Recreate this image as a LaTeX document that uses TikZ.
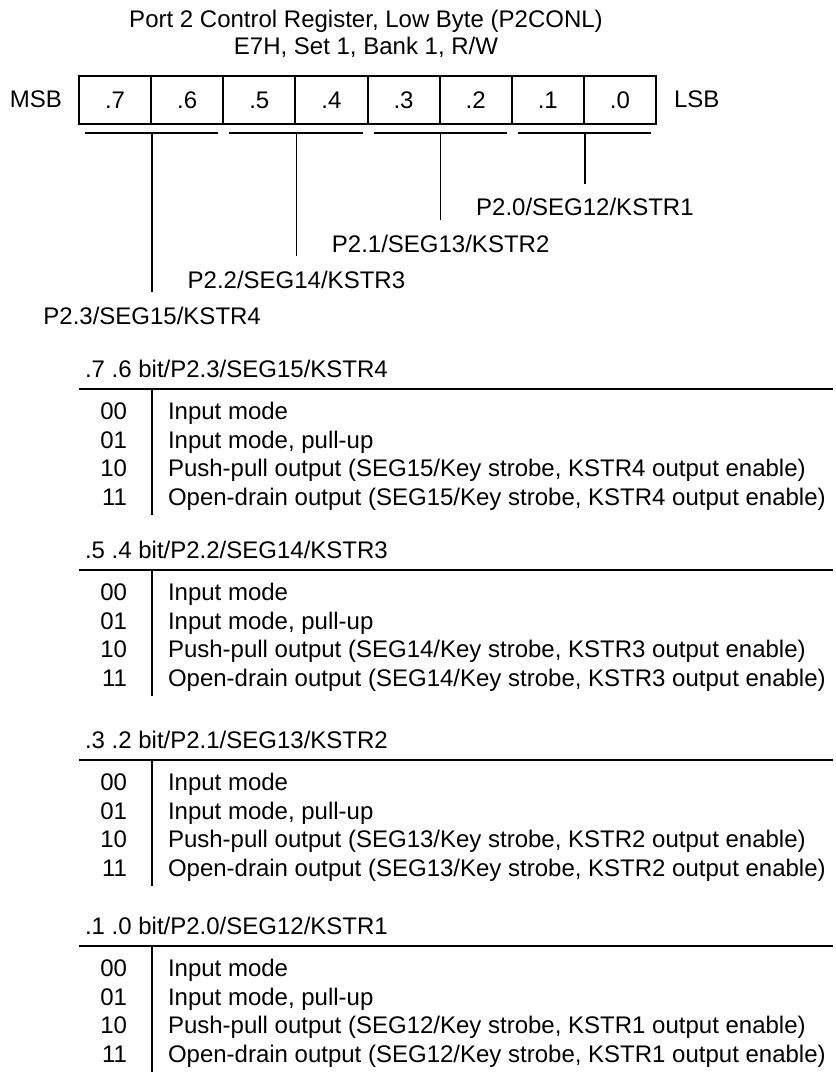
\documentclass[tikz,border=0pt]{standalone}
\usepackage{fontspec}
\setmainfont{Liberation Sans}
\usetikzlibrary{positioning}

\begin{document}
\begin{tikzpicture}[
  x=0.5pt, y=-0.5pt,
  font=\fontsize{12}{14}\selectfont,
  line width=1pt,
  txt/.style={inner sep=0pt},
  lab/.style={txt, anchor=base},
  cell/.style={draw, line width=1pt, minimum width=36.06pt, minimum height=24pt, inner sep=0pt},
  uline/.style={line width=1pt},
  lead/.style={line width=0.8pt},
  rule/.style={line width=1pt}
]
\useasboundingbox (0,0) rectangle (835,1075);

\node[lab] (title) at (366,28) {Port 2 Control Register, Low Byte (P2CONL)};
\node[lab] (addr) at (366,55) {E7H, Set 1, Bank 1, R/W};

% register
\foreach \b [count=\k from 0] in {7,...,0}
  \node[cell] (b\b) at ({79+72.125*(\k+0.5)},100) {.\b};
\node[txt, anchor=base east] (msb) at (63,108) {MSB};
\node[txt, anchor=base west] (lsb) at (673,108) {LSB};

% bit pairs and pin names
\foreach \hi/\lo/\pin/\seg/\ks/\ly in {7/6/3/15/4/324, 5/4/2/14/3/288, 3/2/1/13/2/252, 1/0/0/12/1/216} {
  \draw[uline] ([shift={(7,8)}]b\hi.south west) -- ([shift={(-6,8)}]b\lo.south east);
  \node[lab] (pin\pin) at (b\hi.south east |- 0,\ly) {P2.\pin/SEG\seg/KSTR\ks};
  \draw[lead] ([yshift=-4pt]b\hi.south east) -- ([yshift=7pt]pin\pin.north);
}

% mode tables
\foreach \hy/\bits/\pin/\seg/\ks [count=\t] in {377/{.7 .6}/3/15/4, 558/{.5 .4}/2/14/3, 748/{.3 .2}/1/13/2, 934/{.1 .0}/0/12/1} {
  \node[txt, anchor=base west] (head\t) at (84,\hy) {\bits{} bit/P2.\pin/SEG\seg/KSTR\ks};
  \draw[rule] (79,\hy+12) -- (833,\hy+12);
  \draw[rule] (152,\hy+12) -- (152,\hy+138);
  \foreach \code/\desc [count=\r from 0] in {00/{Input mode}, 01/{Input mode, pull-up},
      10/{Push-pull output (SEG\seg/Key strobe, KSTR\ks\ output enable)},
      11/{Open-drain output (SEG\seg/Key strobe, KSTR\ks\ output enable)}} {
    \node[txt, anchor=base east] (c\t\code) at (128,\hy+42.5+28.6*\r) {\code};
    \node[txt, anchor=base west] (d\t\code) at (167,\hy+42.5+28.6*\r) {\desc};
  }
}
\end{tikzpicture}
\end{document}
